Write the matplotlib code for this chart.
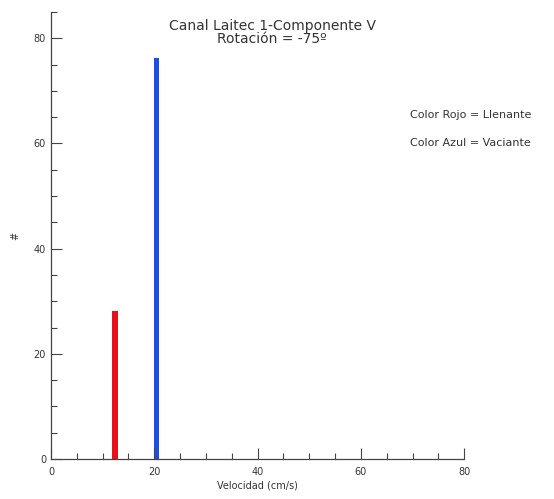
import matplotlib
matplotlib.use('Agg')
import matplotlib.pyplot as plt
from matplotlib.ticker import MultipleLocator

# velocidad (cm/s) y numero de datos
vel_llenante = [12.4]
n_llenante = [28.2]
vel_vaciante = [20.4]
n_vaciante = [76.2]

fig = plt.figure(figsize=(5.54, 4.99), dpi=100)
ax = fig.add_axes([0.092, 0.080, 0.746, 0.896])

ax.bar(vel_llenante, n_llenante, width=1.1, color='#e8101a')
ax.bar(vel_vaciante, n_vaciante, width=1.1, color='#1a4fe0')

ax.set_xlim(0, 80)
ax.set_ylim(0, 85)
ax.spines['top'].set_visible(False)
ax.spines['right'].set_visible(False)
for s in ('left', 'bottom'):
    ax.spines[s].set_color('#444444')
    ax.spines[s].set_linewidth(0.9)

ax.xaxis.set_major_locator(MultipleLocator(20))
ax.xaxis.set_minor_locator(MultipleLocator(5))
ax.yaxis.set_major_locator(MultipleLocator(20))
ax.yaxis.set_minor_locator(MultipleLocator(5))
ax.tick_params(which='major', direction='in', length=8, width=0.8, colors='#444444',
               labelsize=7, labelcolor='#333333')
ax.tick_params(which='minor', direction='in', length=4, width=0.8, colors='#444444')
ax.tick_params(axis='x', pad=6)

ax.set_xlabel('Velocidad (cm/s)', fontsize=7, color='#333333', labelpad=2)
ax.set_ylabel('#', fontsize=7, color='#333333', labelpad=10)

# titulo en dos lineas
fig.text(0.491, 0.948, 'Canal Laitec 1-Componente V', ha='center', va='center',
         fontsize=10, color='#333333')
fig.text(0.491, 0.921, 'Rotación = -75º', ha='center', va='center',
         fontsize=10, color='#333333')

fig.text(0.74, 0.770, 'Color Rojo = Llenante', va='center', fontsize=8, color='#333333')
fig.text(0.74, 0.713, 'Color Azul = Vaciante', va='center', fontsize=8, color='#333333')

fig.savefig('out.png', dpi=100)
